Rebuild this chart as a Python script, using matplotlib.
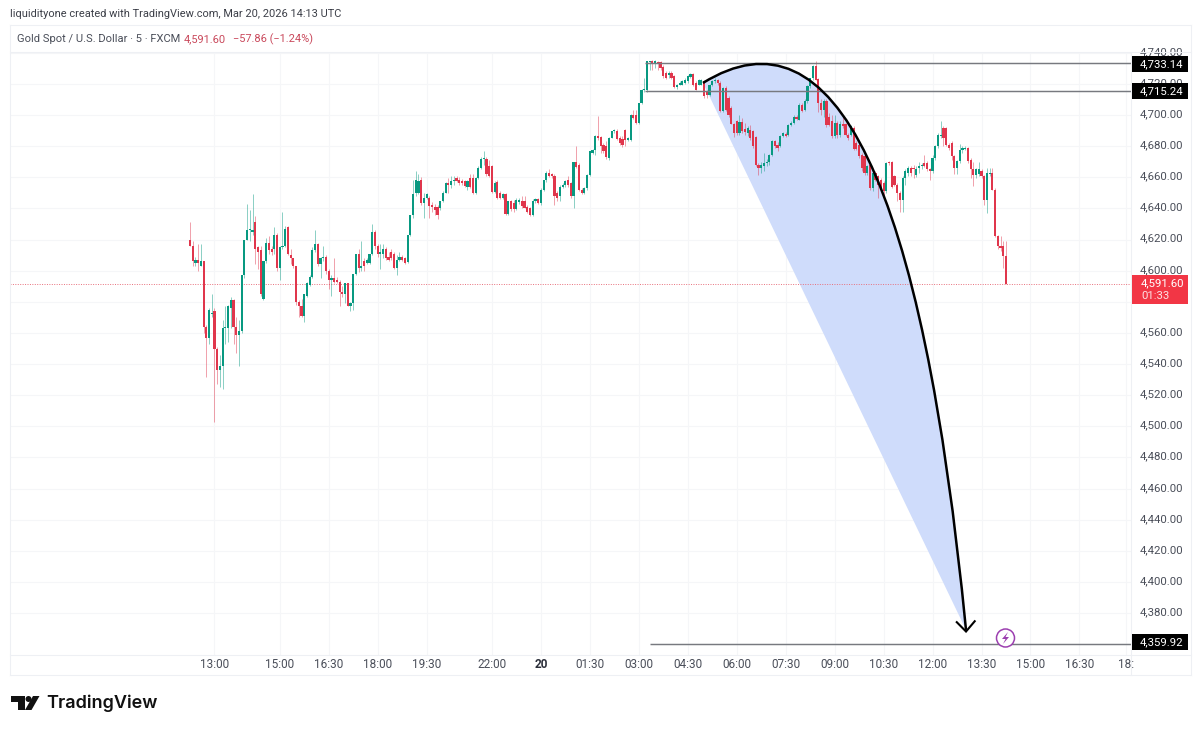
import matplotlib
matplotlib.use('Agg')
import matplotlib.pyplot as plt
import numpy as np
from matplotlib.path import Path
from matplotlib.patches import PathPatch, Rectangle, Circle, Polygon

plt.rcParams['font.family'] = ['Roboto', 'DejaVu Sans']

# ---------- data ----------
opens = [
 4620,4616,4605,4607,4603,4606,4564,4557,4572,4574,
 4550,4536,4539,4563,4563,4576,4581,4564,4558.5,4561,
 4597,4620,4626,4625,4631,4615,4613,4582,4606,4618,
 4614,4614,4623,4602,4615,4616,4628,4610,4608,4603,
 4580,4577,4571,4584,4591,4596,4613,4617,4604.5,4608,
 4609,4600,4594,4595,4594,4593,4586,4585,4592,4577,
 4579,4598,4611,4602,4606,4605,4605,4610.5,4625,4616,
 4610.5,4611,4614,4609,4612,4611,4602,4607,4609,4608,
 4605.5,4623,4636,4650,4650,4658.5,4643.5,4647,4647,4642,
 4641,4641,4640,4644.5,4650,4656,4655,4657.5,4659.6,4658.5,
 4657.5,4657.5,4654,4659.6,4659.6,4649.6,4659.6,4666,4672,4672,
 4667,4667,4650.4,4657,4650,4646.8,4649,4636.7,4644.6,4643.6,
 4639.3,4644,4644.6,4644.6,4641,4640,4635.6,4645,4646,4643.6,
 4652,4658,4663,4662,4661,4650,4647.8,4654,4655,4658,
 4656,4648,4669.7,4668,4652,4650,4653,4661.7,4675.7,4677.8,
 4686.4,4686,4681,4680,4672.5,4685.3,4689.6,4689.6,4685.3,4684.6,
 4690.6,4684,4684,4700,4700,4695,4707.8,4716,4716,4734,
 4734.5,4733.4,4734,4734,4731,4727,4726,4727,4725,4718,
 4719.5,4719.5,4720.6,4721.7,4724.5,4726.6,4720.6,4719.5,4719.5,4721.7,
 4714.6,4713,4719.5,4721.7,4722.3,4720.6,4702.4,4717.4,4711,4704.5,
 4694.5,4696,4688.5,4695.3,4691,4688.5,4690.6,4689.6,4686,4668,
 4666,4667,4669,4670,4674.6,4683,4681,4680,4686.4,4688,
 4687.4,4693.8,4695,4699,4697,4706.7,4703.5,4708.8,4718.5,4723.8,
 4731.3,4723,4708,4703.5,4708.8,4699,4696,4686.4,4695,4687.4,
 4694.5,4694.5,4687.4,4687.4,4691.7,4682,4681,4674.6,4673.5,4662.8,
 4668,4653,4662.8,4660.7,4658.5,4656.4,4651,4669.7,4669.7,4660.7,
 4655.3,4650,4645.7,4659.6,4662.8,4666,4666,4661.7,4666,4667,
 4669,4669,4665,4664,4672.5,4680,4686.4,4691.7,4691.7,4681,
 4682,4673.5,4666,4670.3,4677.8,4678,4678.9,4671.4,4665.4,4661.7,
 4662.4,4663.9,4660.7,4645.7,4662.4,4663,4652,4622,4615.7,4615.7,
 4609.3]
closes = [
 4616,4606,4607,4605,4606,4564,4557,4574.5,4573,4550,
 4536,4539,4563,4564,4577,4581,4564,4558.5,4561,4597,
 4620,4626,4627,4626,4614,4612,4585,4606,4618,4613,
 4612,4623,4602,4615,4616,4627,4610.5,4608,4603,4580,
 4577,4571,4585,4592,4596,4613,4617,4604.5,4608,4609,
 4600,4594,4595,4593,4593,4586,4585,4592,4577,4579,
 4598,4611,4602,4603,4603,4607,4610.5,4625,4616,4610.5,
 4612,4614,4608,4607,4608,4602,4607,4609,4607,4605,
 4623,4636,4649.5,4658.5,4657.5,4643.5,4647,4649,4641.5,4641,
 4639,4635.5,4644.5,4650,4656,4655,4657.5,4658.5,4657.5,4656.4,
 4656,4654.7,4657.5,4654,4649.6,4659.6,4666,4672,4672.5,4662,
 4661,4650.4,4656.4,4646.8,4646.8,4649,4636.7,4644.6,4639.3,4639.3,
 4645.7,4645.7,4641.4,4640.3,4638,4635.6,4645,4646,4643.6,4652,
 4658,4663,4661,4660.7,4647.8,4647,4654,4655,4657.5,4655,
 4648,4669.7,4666.7,4652,4650,4653,4661.7,4676.7,4677.8,4686.8,
 4685.3,4680,4676.7,4673,4685.3,4689.6,4690.6,4684.6,4682,4681,
 4684,4685.3,4700,4698,4695,4707.8,4716.3,4716.8,4734.5,4734.5,
 4733,4734.5,4733.4,4730,4725,4724,4727,4724,4718,4719,
 4720.6,4721.7,4722.7,4725,4726.6,4719,4716.3,4722.7,4722.7,4712,
 4713,4719.5,4721.7,4722.7,4720.6,4702.4,4717.4,4703.5,4700,4694.5,
 4688.5,4688.5,4695.3,4689.6,4689,4691.7,4685.3,4680,4668,4666,
 4668,4669,4670,4674.6,4683,4680,4679,4686.4,4688.5,4686.8,
 4693.8,4695,4699,4697.5,4706.7,4702.4,4708.8,4718.5,4723.8,4731.3,
 4722.7,4708,4703.5,4708.8,4693.8,4693.8,4686.4,4695,4687.4,4694.5,
 4693,4687.4,4685.3,4692.8,4678,4678,4673.5,4666,4662.8,4667,
 4653,4662.8,4658.5,4655.3,4653,4651,4669,4669,4654,4655.3,
 4650,4645.7,4659.6,4664,4666,4662.8,4665,4665,4667,4668,
 4667,4665,4664,4672.5,4680,4687.4,4687.4,4685.3,4681,4678.9,
 4673.5,4666,4670.3,4677.8,4678.9,4679,4670.3,4665,4661.7,4665,
 4665,4660.7,4645.7,4662.8,4663,4652,4622,4615.7,4614.6,4609.3,
 4591.6]
highs = [
 4631,4619,4609,4617,4617,4606,4565,4576,4585,4576,
 4551,4546,4568,4577,4578,4583,4582,4570,4568,4597,
 4620,4643,4639,4649,4635,4616,4616,4606,4621,4622,
 4616,4628,4624,4616,4638,4629,4629,4614,4608,4603,
 4581,4582,4585,4593,4597,4615,4626,4618,4609,4616,
 4610,4601,4597,4608,4596,4594,4590,4592,4592,4580,
 4598,4611,4614,4619,4608,4608,4611,4630,4626,4617,
 4617,4617,4615,4612,4614,4612,4610,4612,4610,4609,
 4623,4636,4658.5,4664,4662,4660,4650,4650,4648,4644,
 4643,4642,4645,4651,4657,4659.6,4660.6,4660.6,4661,4660,
 4659,4658.5,4658.5,4662,4662,4660,4667,4673,4677,4673,
 4671,4668,4657.5,4658,4651,4650,4650,4645,4645.7,4645.7,
 4646.8,4646.8,4647.8,4647.8,4642,4641,4646,4646.8,4647,4653,
 4658.5,4664,4665,4662.5,4662,4651,4655,4656,4658.5,4660.7,
 4657,4670,4680,4669,4653,4654,4662,4677,4678,4687,
 4699.6,4686.5,4682,4683,4686,4690,4691,4691,4686.4,4686.4,
 4691,4686,4700.5,4703.5,4703.5,4708,4717,4724,4735,4735,
 4735.6,4735.6,4735,4735,4732,4728,4728,4728,4726,4720,
 4722,4722.7,4723.8,4726,4727,4727,4721.7,4723,4723,4722.7,
 4716,4720,4722.7,4723.8,4723,4721.7,4718,4718.5,4712,4705.6,
 4695,4697,4700,4698,4695,4692.8,4693.8,4690.6,4686.5,4669,
 4670,4675.7,4672,4675,4684,4684,4682.5,4687.4,4689,4689,
 4694.5,4696,4700,4700,4707.8,4707.8,4710,4719,4724,4732.4,
 4735,4724,4710,4710,4710,4701,4700,4700,4696,4696,
 4700,4695,4688.5,4693.8,4693,4683,4682,4675.7,4674.6,4668,
 4669,4664.5,4664,4661.7,4659.6,4657.5,4669.7,4670.3,4670.3,4661.7,
 4656.4,4651,4660.7,4665,4667,4667,4668,4667.5,4670,4669,
 4674,4670.3,4666,4674,4681,4688.5,4696,4693,4692.4,4682,
 4683,4674.6,4671.4,4681.6,4680,4680.4,4679.5,4672.4,4670,4666,
 4670,4665.4,4661.7,4666,4666,4666,4653,4623,4622,4619,
 4619]
lows = [
 4616,4603,4603,4600,4603,4560,4532,4553,4570,4503,
 4527,4525,4524,4553,4554,4563,4553,4547,4539,4560,
 4595,4620,4619,4623,4604,4601,4584,4581,4605,4611,
 4610,4611,4600,4594,4614,4615,4610,4604.5,4602,4578,
 4570,4570,4567,4583,4590,4595,4612,4603,4595,4606,
 4598,4588,4584,4592,4592,4577,4583,4579,4577,4574,
 4574.5,4597,4599,4600,4600,4604,4604,4610,4614,4609,
 4601,4608,4607,4606,4607,4601,4597,4606,4606,4604,
 4605,4622,4634,4648,4649,4642,4634,4646,4634,4638,
 4636,4633,4639,4644,4650,4650,4653,4655,4657,4655,
 4655,4654,4652,4653,4649,4649,4659,4665,4668,4661,
 4660,4650,4650,4646,4646,4646,4636,4636,4638.6,4638,
 4639,4643,4640,4640,4637,4635,4635,4643.6,4643,4642.5,
 4651,4657,4660,4659.6,4642.5,4644.6,4644.6,4653,4654,4654,
 4647,4640,4666,4651,4649,4649.5,4652,4661,4675,4674.6,
 4684,4675.7,4675.7,4672,4671.4,4685,4688.5,4684,4681,4679.5,
 4680,4683,4683,4697.5,4694,4694.5,4707,4715,4715,4729,
 4729,4730,4729,4729,4724,4723,4724,4723,4717.5,4717,
 4719,4719,4720,4720.6,4724,4718.5,4716,4719,4719,4711,
 4711,4712,4718.5,4720.6,4719.5,4702,4702,4702.4,4699,4694,
 4686,4687,4687,4688.5,4687.4,4686.8,4684,4679,4667,4661.7,
 4662.8,4664,4667,4668,4673.5,4679,4676.7,4679.5,4686,4686,
 4686.8,4693,4694,4696.6,4696.6,4701.7,4702.4,4708,4717.4,4722.7,
 4722.3,4701.8,4700,4699,4692,4692.8,4685,4685,4685,4686,
 4691.7,4686.4,4684,4686.4,4677.8,4677.4,4672.5,4664,4661.7,4661.7,
 4652,4651,4657.5,4646.8,4652,4646.8,4650,4668,4653.2,4654.3,
 4644.6,4638,4637.6,4655.3,4660.7,4661,4659.6,4660,4662.8,4665,
 4666.7,4663.9,4658.5,4662.8,4671.4,4678.9,4685.3,4680,4680,4677.8,
 4671.4,4662.4,4662.4,4669,4675.7,4677.4,4669.2,4659.6,4654.7,4659.6,
 4660.7,4659.6,4642.5,4637,4661,4651.7,4621.7,4613.6,4612.5,4601.8,
 4591.6]

price_ticks = list(range(4380, 4741, 20))
hidden_ticks = [4580]   # covered by the last-price tag in the reference
time_pos = [9, 33, 51, 69, 87, 111, 129, 147, 165, 183, 201, 219, 237, 255, 273, 291, 309, 327, 344]
time_labels = ['13:00','15:00','16:30','18:00','19:30','22:00','20','01:30','03:00','04:30',
               '06:00','07:30','09:00','10:30','12:00','13:30','15:00','16:30','18:']

last_price = 4591.60
levels = [4733.14, 4715.24, 4359.92]
level_starts = [167.3, 167.3, 169]
curve_start = (188.6, 4720.6)
curve_ctrl = (261.4, 4799.6)
curve_end = (285.3, 4369.2)

# ---------- layout (pixels) ----------
W, H = 1200, 731
GREEN, RED = '#089981', '#e0364c'
TXT = '#4a4e59'
fig = plt.figure(figsize=(12, 7.31), dpi=100, facecolor='white')
PL, PR, PT, PB = 10, 1131, 52, 655
ax = fig.add_axes([PL / W, 1 - PB / H, (PR - PL) / W, (PB - PT) / H])
BAR = 2.72
ax.set_xlim((PL - 190) / BAR, (PR - 190) / BAR)
def y_px_to_price(y):
    return 4700 - (y - 115) / 1.5567
ax.set_ylim(y_px_to_price(PB), y_px_to_price(PT))
for s in ax.spines.values():
    s.set_visible(False)
ax.set_facecolor('white')
ax.tick_params(length=0)
ax.set_yticks([])
ax.set_xticks(time_pos)
ax.set_xticklabels(time_labels, fontsize=8.5, color=TXT)
ax.tick_params(axis='x', pad=2.5)
for t, lab in zip(ax.get_xticklabels(), time_labels):
    if lab == '20':
        t.set_fontweight('bold')
        t.set_color('#2a2e39')

# grid
GRID = '#f5f6f8'
for p in price_ticks:
    ax.axhline(p, color=GRID, lw=0.8, zorder=0)
for x in time_pos:
    ax.axvline(x, color=GRID, lw=0.8, zorder=0)

# drawing: filled curve and arc
fill_path = Path([curve_start, curve_ctrl, curve_end, curve_start],
                 [Path.MOVETO, Path.CURVE3, Path.CURVE3, Path.CLOSEPOLY])
ax.add_patch(PathPatch(fill_path, facecolor='#cfdcfb', edgecolor='none', zorder=1, clip_on=False))

# candles
idx = np.arange(len(opens))
o, h, l, c = map(np.array, (opens, highs, lows, closes))
colors = [GREEN if cc >= oo else RED for oo, cc in zip(o, c)]
ax.vlines(idx, l, h, colors=colors, lw=0.6, alpha=0.55, zorder=3)
bot = np.minimum(o, c)
ht = np.maximum(np.abs(c - o), 0.5)
ax.bar(idx, ht, bottom=bot, width=0.8, color=colors, linewidth=0, zorder=4)

# horizontal levels
for p, s in zip(levels, level_starts):
    ax.plot([s, (PR - 190) / BAR], [p, p], color='#77797f', lw=1.05, zorder=5, solid_capstyle='butt')
ax.axhline(last_price, color='#e8707c', lw=0.7, ls=(0, (1, 1.5)), zorder=2)

# arc + arrow head
arc = Path([curve_start, curve_ctrl, curve_end], [Path.MOVETO, Path.CURVE3, Path.CURVE3])
ax.add_patch(PathPatch(arc, facecolor='none', edgecolor='black', lw=1.8, zorder=6, clip_on=False))
tip_x, tip_p = curve_end[0], curve_end[1] - 1
ax.plot([tip_x - 3.4, tip_x, tip_x + 3.2], [tip_p + 6, tip_p, tip_p + 6.6], color='black', lw=1.5,
        zorder=6, solid_joinstyle='miter')

# ---------- price axis ----------
for p in price_ticks:
    if p in hidden_ticks:
        continue
    ax.annotate(f'{p:,.2f}', xy=(1, p), xycoords=('axes fraction', 'data'),
                xytext=(6.6, 0.6), textcoords='offset points', fontsize=8.2, color=TXT,
                va='center', ha='left', annotation_clip=False, zorder=1)

def px_rect(x0, y0, x1, y1, **kw):
    fig.add_artist(Rectangle((x0 / W, 1 - y1 / H), (x1 - x0) / W, (y1 - y0) / H,
                             transform=fig.transFigure, **kw))
def px_text(x, y, s, **kw):
    fig.text(x / W, 1 - y / H, s, **kw)

# frame lines
FR = '#eef0f4'
for seg in [((10, 25), (1191, 25)), ((10, 52), (1191, 52)), ((10, 675), (1191, 675)),
            ((10, 25), (10, 675)), ((1191, 25), (1191, 675)), ((1131, 52), (1131, 675)),
            ((10, 655), (1191, 655))]:
    (x0, y0), (x1, y1) = seg
    fig.add_artist(plt.Line2D([x0 / W, x1 / W], [1 - y0 / H, 1 - y1 / H], color=FR, lw=0.8))

# tags
for lev, cy, lab in [(levels[0], 64, '4,733.14'), (levels[1], 91, '4,715.24'), (levels[2], 642, '4,359.92')]:
    px_rect(1132, cy - 8, 1187.5, cy + 8, facecolor='black', edgecolor='none', zorder=20)
    px_text(1183, cy, lab, color='white', fontsize=8.2, ha='right', va='center', zorder=21)
px_rect(1132, 275, 1187.5, 304, facecolor='#f23645', edgecolor='none', zorder=20)
px_text(1141, 283, '4,591.60', color='white', fontsize=8.2, ha='left', va='center', zorder=21)
px_text(1141, 296, '01:33', color='#fde0e3', fontsize=8.2, ha='left', va='center', zorder=21)

# header
px_text(10, 14, 'liquidityone created with TradingView.com, Mar 20, 2026 14:13 UTC',
        fontsize=7.95, color='#3c3f48', ha='left', va='center')
px_text(17, 39, 'Gold Spot / U.S. Dollar · 5 · FXCM', fontsize=8.0, color='#4a4e59', ha='left', va='center')
px_text(184, 39, '4,591.60', fontsize=7.9, color='#c9485b', ha='left', va='center')
px_text(233, 39, '−57.86 (−1.24%)', fontsize=7.9, color='#c9485b', ha='left', va='center')

# purple event icon
fig.add_artist(Circle((1005.5, H - 638), 9, transform=None,
                      facecolor='white', edgecolor='#9c3fb0', lw=1.1, zorder=15))
bolt = [(1008, 632), (1002, 639), (1005.5, 639), (1003, 644), (1009, 637), (1005.5, 637)]
fig.add_artist(Polygon([(x, H - y) for x, y in bolt], closed=True, transform=None,
                       facecolor='#9c3fb0', edgecolor='none', zorder=16))

# logo
lg = '#111111'
px_rect(11, 696, 24.5, 702, facecolor=lg, edgecolor='none')
px_rect(18, 696, 24.5, 710, facecolor=lg, edgecolor='none')
fig.add_artist(Circle((28.5, H - 699), 3, transform=None, facecolor=lg, edgecolor='none'))
v = [(33, 696), (39.5, 696), (31.5, 710), (25, 710)]
fig.add_artist(Polygon([(x, H - y) for x, y in v], closed=True, transform=None, facecolor=lg, edgecolor='none'))
px_text(46.5, 703.5, 'TradingView', fontsize=13, color=lg, fontweight='semibold', family=['Inter', 'DejaVu Sans'],
        ha='left', va='center')

fig.savefig('out.png', dpi=100, facecolor='white')
